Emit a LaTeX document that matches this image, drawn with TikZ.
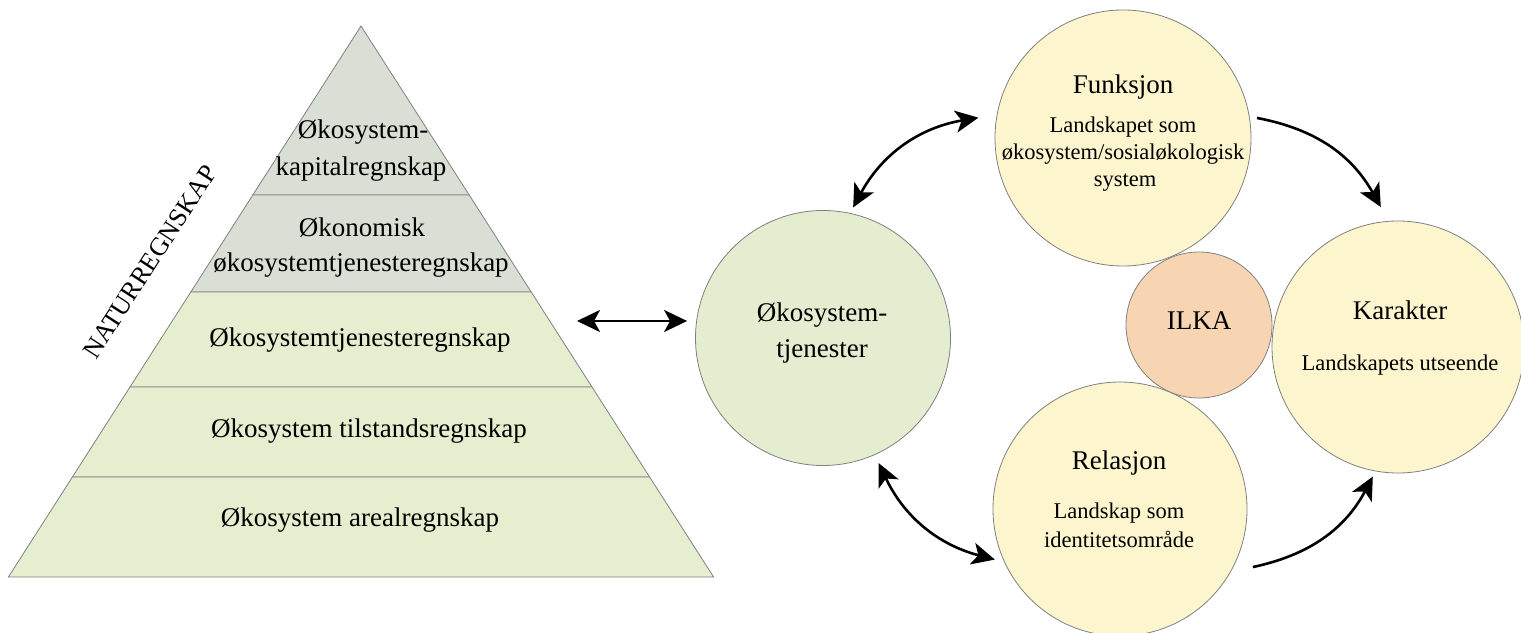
\documentclass[tikz,border=0pt]{standalone}
\usepackage{fontspec}
\setmainfont{Liberation Serif}
\usetikzlibrary{arrows.meta,calc}
\definecolor{pgray}{HTML}{D9DFD4}
\definecolor{pgreen}{HTML}{E5EECF}
\definecolor{cgreen}{HTML}{E4EDD0}
\definecolor{cyellow}{HTML}{FDF5CE}
\definecolor{cpeach}{HTML}{F8D5B2}
\definecolor{edgegray}{HTML}{808080}
\begin{document}
\begin{tikzpicture}[x=1pt,y=1pt,
  band/.style={draw=edgegray, line width=0.8pt},
  ptext/.style={font=\fontsize{27}{33}\selectfont, inner sep=0pt, anchor=base},
  circ/.style={circle, draw=edgegray, line width=0.8pt, inner sep=0pt},
  ctitle/.style={font=\fontsize{27}{33}\selectfont, inner sep=0pt, anchor=base},
  csub/.style={font=\fontsize{22.5}{27}\selectfont, inner sep=0pt, anchor=base},
  tip/.tip={Stealth[length=23pt,width=22pt,inset=6pt]},
  arr/.style={line width=2.6pt, -tip},
  dbl/.style={line width=2.6pt, tip-tip}
]
\useasboundingbox (0,0) rectangle (1521,632);

% pyramid
\filldraw[band, fill=pgray] (361,606) -- (469.2,437) -- (252.8,437) -- cycle;
\filldraw[band, fill=pgray] (252.8,437) -- (469.2,437) -- (531.2,340) -- (190.8,340) -- cycle;
\filldraw[band, fill=pgreen] (190.8,340) -- (531.2,340) -- (592,245) -- (130,245) -- cycle;
\filldraw[band, fill=pgreen] (130,245) -- (592,245) -- (649.6,155) -- (72.4,155) -- cycle;
\filldraw[band, fill=pgreen] (72.4,155) -- (649.6,155) -- (713.6,55) -- (8.4,55) -- cycle;

\node[ptext] (p1a) at (363,493) {Økosystem-};
\node[ptext] (p1b) at (361,456) {kapitalregnskap};
\node[ptext] (p2a) at (362,395) {Økonomisk};
\node[ptext] (p2b) at (361,360) {økosystemtjenesteregnskap};
\node[ptext] (p3) at (360,285) {Økosystemtjenesteregnskap};
\node[ptext] (p4) at (369,194) {Økosystem tilstandsregnskap};
\node[ptext] (p5) at (360,105) {Økosystem arealregnskap};
\node[font=\fontsize{26}{30}\selectfont, inner sep=0pt, rotate=57] (nat) at (150,370) {NATURREGNSKAP};

% circles
\node[circ, fill=cgreen, minimum size=255pt] (eco) at (823,294) {};
\node[circ, fill=cyellow, minimum size=256pt] (fun) at (1123,494) {};
\node[circ, fill=cpeach, minimum size=146pt] (ilka) at (1199,307) {};
\node[circ, fill=cyellow, minimum size=254pt] (rel) at (1120,123) {};
\node[circ, fill=cyellow, minimum size=252pt] (kar) at (1398,285) {};

% circle texts
\node[ctitle] (ecoA) at (822,310) {Økosystem-};
\node[ctitle] (ecoB) at (822,274) {tjenester};
\node[ctitle] (funT) at (1123,538) {Funksjon};
\node[csub] (funA) at (1123,499) {Landskapet som};
\node[csub] (funB) at (1123,472) {økosystem/sosialøkologisk};
\node[csub] (funC) at (1125,445) {system};
\node[ctitle] (karT) at (1400,312) {Karakter};
\node[csub] (karA) at (1400,261) {Landskapets utseende};
\node[ctitle] (ilkaT) at (1199,302) {ILKA};
\node[ctitle] (relT) at (1119,162) {Relasjon};
\node[csub] (relA) at (1119,113) {Landskap som};
\node[csub] (relB) at (1119,84) {identitetsområde};

% arrows
\coordinate (hl) at (577,311);
\draw[dbl, shorten >=8pt] (hl) -- (hl -| eco.west);
\draw[dbl] ($(eco.center)+(77:134)$) to[bend left=26] ($(fun.center)+(172:146)$);
\draw[arr] ($(fun.center)+(8.5:135.5)$) to[bend left=25] ($(kar.center)+(97:141)$);
\draw[dbl] ($(eco.center)+(294:137)$) to[bend right=25] ($(rel.center)+(202:135)$);
\draw[arr] ($(rel.center)+(336.4:145)$) to[bend right=25] ($(kar.center)+(259:132)$);
\end{tikzpicture}
\end{document}
